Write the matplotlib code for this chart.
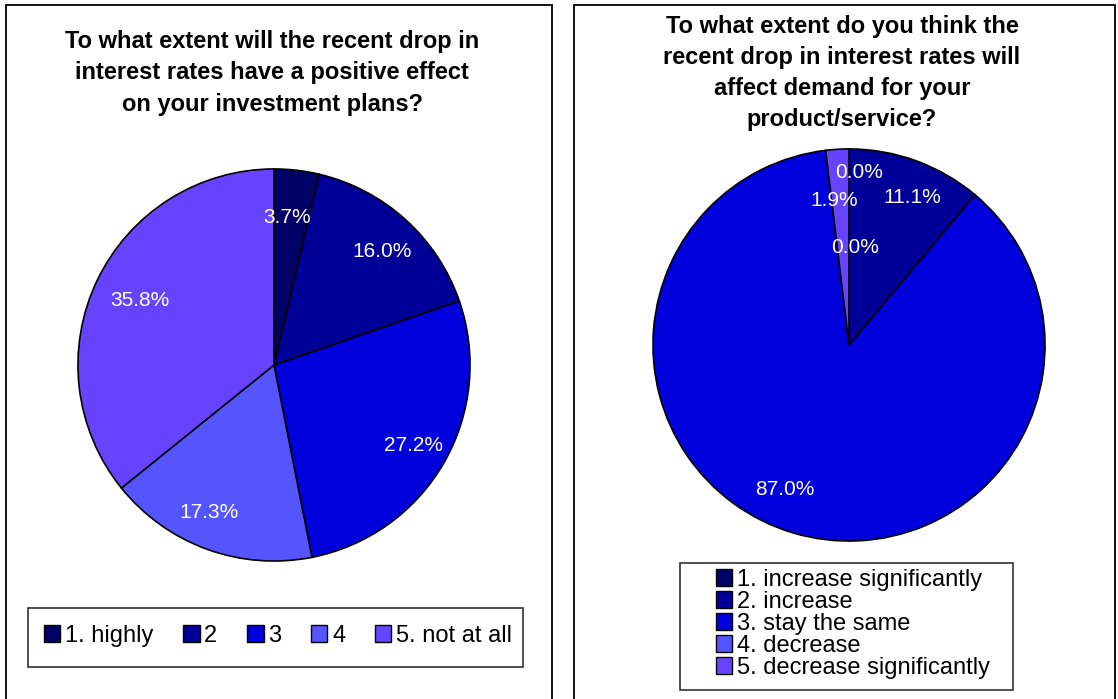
import numpy as np
import matplotlib.pyplot as plt
from matplotlib.patches import Patch, Rectangle

plt.rcParams['font.family'] = ['Liberation Sans', 'DejaVu Sans']

W, H = 1118, 699

# survey answers, share of respondents (%)
invest_labels = ["1. highly", "2", "3", "4", "5. not at all"]
invest_share = [3.7, 16.0, 27.2, 17.3, 35.8]

demand_labels = ["1. increase significantly", "2. increase", "3. stay the same",
                 "4. decrease", "5. decrease significantly"]
demand_share = [0.0, 11.1, 87.0, 0.0, 1.9]

colors = ["#000066", "#000099", "#0000DD", "#5555FF", "#6644FF"]

title_left = "To what extent will the recent drop in\ninterest rates have a positive effect\non your investment plans?"
title_right = "To what extent do you think the\nrecent drop in interest rates will\naffect demand for your\nproduct/service?"


def px_axes(fig, cx, cy, r):
    # axes box (in pixels) around a pie centre
    return fig.add_axes([(cx - r) / W, (H - cy - r) / H, 2 * r / W, 2 * r / H])


def draw_pie(ax, values, pct_dist):
    wedges, _, autotexts = ax.pie(
        values, colors=colors, startangle=90, counterclock=False,
        autopct='%1.1f%%', pctdistance=0.78,
        wedgeprops=dict(edgecolor='black', linewidth=1.2),
        textprops=dict(color='white', fontsize=15))
    # per-label radial distance
    for w, t, d in zip(wedges, autotexts, pct_dist):
        ang = np.deg2rad((w.theta1 + w.theta2) / 2)
        t.set_position((d * np.cos(ang), d * np.sin(ang)))
    ax.set_xlim(-1.01, 1.01)
    ax.set_ylim(-1.01, 1.01)
    ax.set_aspect('equal')
    return autotexts


def nudge(t, dx, dy=0.0):
    x, y = t.get_position()
    t.set_position((x + dx, y + dy))


fig = plt.figure(figsize=(W / 100, H / 100), dpi=100)

# panel borders
for x0, x1 in [(6, 552), (574, 1115)]:
    fig.add_artist(Rectangle((x0 / W, -0.05), (x1 - x0) / W, (H - 5) / H + 0.05,
                             transform=fig.transFigure, fill=False,
                             edgecolor='black', linewidth=1.3))

fig.text(272 / W, 1 - 73 / H, title_left, ha='center', va='center',
         fontsize=17, fontweight='bold', linespacing=1.46)
fig.text(842 / W, 1 - 73 / H, title_right, ha='center', va='center',
         fontsize=17, fontweight='bold', linespacing=1.46)

ax1 = px_axes(fig, 274, 365, 198)
t1 = draw_pie(ax1, invest_share, [0.76, 0.78, 0.82, 0.8, 0.76])
nudge(t1[0], -0.02)
nudge(t1[1], 0.03)
nudge(t1[3], -0.06)

ax2 = px_axes(fig, 849, 345, 198)
t2 = draw_pie(ax2, demand_share, [0.88, 0.8, 0.8, 0.5, 0.74])
# keep the thin-slice labels apart
nudge(t2[0], 0.05)
nudge(t2[1], 0.05)
nudge(t2[2], -0.1, 0.03)
nudge(t2[3], 0.09)
nudge(t2[4], -0.03)

# legends
fig.add_artist(Rectangle((28 / W, 1 - 667 / H), 495 / W, 59 / H,
                         transform=fig.transFigure, fill=False,
                         edgecolor='#333333', linewidth=1.2))
fig.legend([Patch(facecolor=c, edgecolor='black') for c in colors], invest_labels,
           loc='center', bbox_to_anchor=(278 / W, 1 - 636 / H), ncol=5,
           frameon=False, fontsize=17, handlelength=0.7, handleheight=0.7,
           handletextpad=0.2, columnspacing=1.25)

fig.add_artist(Rectangle((680 / W, 1 - 690 / H), 333 / W, 127 / H,
                         transform=fig.transFigure, fill=False,
                         edgecolor='#333333', linewidth=1.2))
fig.legend([Patch(facecolor=c, edgecolor='black') for c in colors], demand_labels,
           loc='upper left', bbox_to_anchor=(704 / W, 1 - 557 / H), ncol=1,
           frameon=False, fontsize=17, handlelength=0.7, handleheight=0.7,
           handletextpad=0.2, labelspacing=0.0, borderpad=0)

fig.savefig('out.png', dpi=100)
